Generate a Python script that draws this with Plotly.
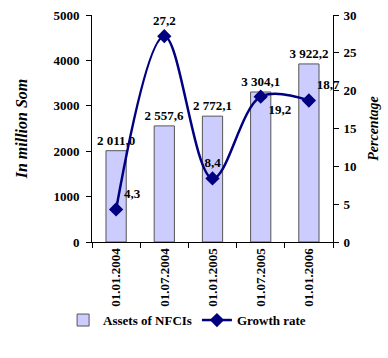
import plotly.graph_objects as go

categories = ["01.01.2004", "01.07.2004", "01.01.2005", "01.07.2005", "01.01.2006"]
assets = [2011.0, 2557.6, 2772.1, 3304.1, 3922.2]
assets_labels = ["2 011,0", "2 557,6", "2 772,1", "3 304,1", "3 922,2"]
growth = [4.3, 27.2, 8.4, 19.2, 18.7]
growth_labels = ["4,3", "27,2", "8,4", "19,2", "18,7"]
growth_pos = ["top right", "top center", "top center", "bottom right", "top right"]

FONT = "Liberation Serif"
F = dict(family=FONT, size=13, color="black", weight="bold")

fig = go.Figure()
fig.add_trace(go.Bar(
    x=categories, y=assets, name="Assets of NFCIs",
    marker=dict(color="#ccccff", line=dict(color="#555555", width=1)),
    width=0.42,
    text=assets_labels, textposition="outside", constraintext="none",
    textfont=F,
    cliponaxis=False,
))
fig.add_trace(go.Scatter(
    x=categories, y=growth, name="Growth rate", yaxis="y2",
    mode="lines+markers+text",
    line=dict(color="#000080", width=2.5, shape="spline", smoothing=1.0),
    marker=dict(symbol="diamond", size=11, color="#000080"),
    text=growth_labels, textposition=growth_pos,
    textfont=F,
    cliponaxis=False,
))

fig.update_layout(
    width=388, height=358,
    margin=dict(l=92, r=55, t=15, b=116, autoexpand=False),
    paper_bgcolor="white", plot_bgcolor="white",
    font=F,
    showlegend=True,
    legend=dict(orientation="h", x=-0.12, xanchor="left", y=-0.344, yanchor="middle",
                bgcolor="rgba(0,0,0,0)", borderwidth=0,
                font=F, traceorder="normal", itemwidth=30),
    xaxis=dict(
        type="category", showline=True, linecolor="black", linewidth=1,
        ticks="outside", ticklen=5, tickcolor="black", tickson="boundaries",
        tickangle=-90, showgrid=False, automargin=False,
        tickfont=F,
    ),
    yaxis=dict(
        range=[0, 5000], dtick=1000, showline=True, linecolor="black", linewidth=1,
        ticks="outside", ticklen=5, tickcolor="black", showgrid=False, zeroline=False,
        tickformat="d", automargin=False, ticklabelstandoff=4,
        tickfont=F,
        title=dict(text="<i>In million Som</i>", font=dict(family=FONT, size=16, color="black", weight="bold"), standoff=21),
    ),
    yaxis2=dict(
        range=[0, 30], dtick=5, overlaying="y", side="right",
        showline=True, linecolor="black", linewidth=1,
        ticks="outside", ticklen=5, tickcolor="black", showgrid=False, zeroline=False,
        automargin=False, ticklabelstandoff=2,
        tickfont=F,
        title=dict(text="<i>Percentage</i>", font=dict(family=FONT, size=14, color="black", weight="bold"), standoff=12),
    ),
)

fig.write_html("out.html", config={"displayModeBar": False},
               post_script="document.body.style.margin='0px';")
